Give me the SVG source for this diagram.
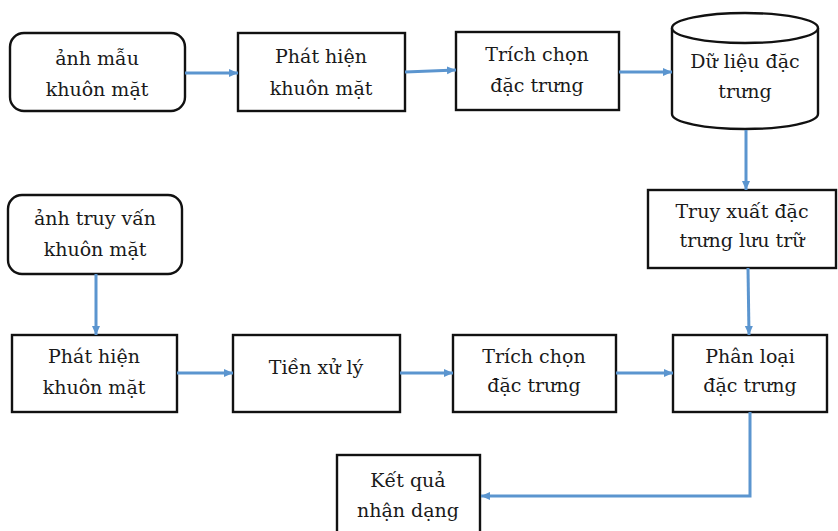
<svg xmlns="http://www.w3.org/2000/svg" width="838" height="531" viewBox="0 0 838 531">
<defs>
<marker id="ah" markerUnits="userSpaceOnUse" markerWidth="10" markerHeight="10" refX="9" refY="5" orient="auto">
<path d="M0,1 L9,5 L0,9 Z" fill="#5b95cf"/>
</marker>
<style>
.box{fill:#fff;stroke:#111;stroke-width:2.4}
.t{font-family:"DejaVu Serif","Liberation Serif",serif;font-size:19px;fill:#1a1a1a;text-anchor:middle}
.c{fill:none;stroke:#5b95cf;stroke-width:3;marker-end:url(#ah)}
</style>
</defs>
<rect width="838" height="531" fill="#fff"/>
<g id="n1"><rect class="box" x="10" y="33" width="175" height="78" rx="14"/><text class="t" x="97" y="65">ảnh mẫu</text><text class="t" x="97" y="96">khuôn mặt</text></g>
<g id="n2"><rect class="box" x="238" y="33" width="167" height="78"/><text class="t" x="321" y="63">Phát hiện</text><text class="t" x="321" y="95">khuôn mặt</text></g>
<g id="n3"><rect class="box" x="456" y="32" width="163" height="78"/><text class="t" x="537" y="61">Trích chọn</text><text class="t" x="537" y="92">đặc trưng</text></g>
<g id="n4"><path class="box" d="M672,28 L672,114 A73,15 0 0 0 818,114 L818,28"/><ellipse class="box" cx="745" cy="28" rx="73" ry="15"/><text class="t" x="745" y="68">Dữ liệu đặc</text><text class="t" x="745" y="98">trưng</text></g>
<g id="n5"><rect class="box" x="648" y="190" width="188" height="78"/><text class="t" x="742" y="218">Truy xuất đặc</text><text class="t" x="742" y="247">trưng lưu trữ</text></g>
<g id="n6"><rect class="box" x="8" y="195" width="174" height="79" rx="14"/><text class="t" x="95" y="225">ảnh truy vấn</text><text class="t" x="95" y="256">khuôn mặt</text></g>
<g id="n7"><rect class="box" x="12" y="335" width="165" height="77"/><text class="t" x="94" y="363">Phát hiện</text><text class="t" x="94" y="394">khuôn mặt</text></g>
<g id="n8"><rect class="box" x="233" y="335" width="167" height="77"/><text class="t" x="316" y="374">Tiền xử lý</text></g>
<g id="n9"><rect class="box" x="453" y="335" width="163" height="77"/><text class="t" x="534" y="363">Trích chọn</text><text class="t" x="534" y="392">đặc trưng</text></g>
<g id="n10"><rect class="box" x="673" y="335" width="154" height="77"/><text class="t" x="750" y="363">Phân loại</text><text class="t" x="750" y="392">đặc trưng</text></g>
<g id="n11"><rect class="box" x="337" y="455" width="143" height="80"/><text class="t" x="408" y="487">Kết quả</text><text class="t" x="408" y="517">nhận dạng</text></g>
<g id="connectors">
<path class="c" d="M185,73 L238,73"/>
<path class="c" d="M405,72 L456,70"/>
<path class="c" d="M619,72 L672,72"/>
<path class="c" d="M746,130 L746,190"/>
<path class="c" d="M748,268 L749,335"/>
<path class="c" d="M96,274 L96,335"/>
<path class="c" d="M177,373 L233,373"/>
<path class="c" d="M400,373 L453,373"/>
<path class="c" d="M616,373 L673,373"/>
<path class="c" d="M750,412 L750,496 L481,496"/>
</g>
</svg>
